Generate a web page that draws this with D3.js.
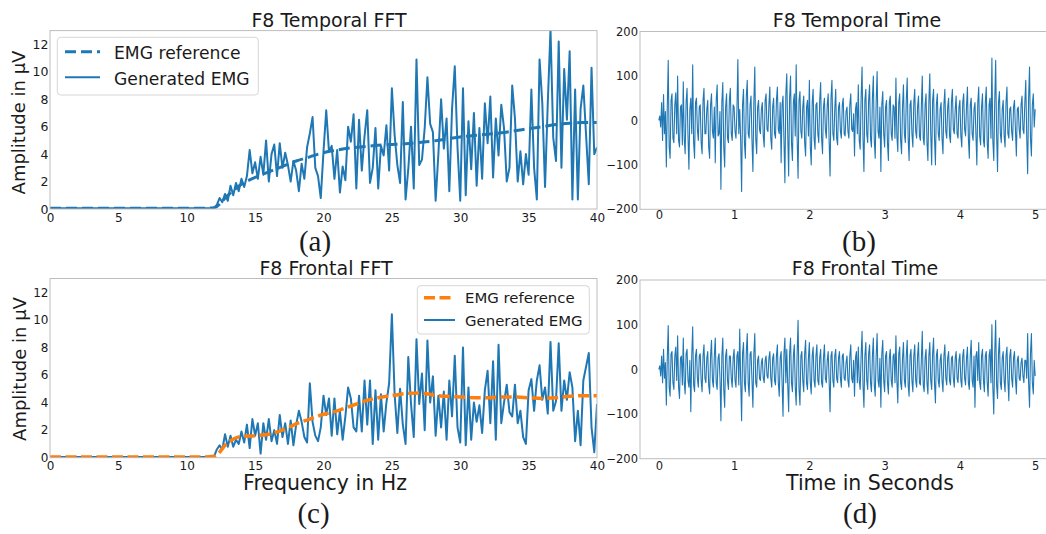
<!DOCTYPE html>
<html><head><meta charset="utf-8">
<script src="https://cdn.jsdelivr.net/npm/d3@7"></script>
<style>body{margin:0;background:#fff} svg{display:block;font-family:"DejaVu Sans",sans-serif}</style>
</head><body><svg id="c" width="1046" height="534"></svg>
<script>
// ---------- data ----------
const fftTicksX = [0,5,10,15,20,25,30,35,40];
const fftTicksY = [0,2,4,6,8,10,12];
const timeTicksX = [0,1,2,3,4,5];
const timeTicksY = [-200,-100,0,100,200];

const flatFreq = [0, 11.8];
const flatAmp = [0.05, 0.05];
const fftStart = 12, fftStep = 0.2;   // generated spectra sampled every 0.2 Hz from 12 Hz
const genTemporal = [
0.1,0.3,0.8,0.5,1.1, 0.6,1.7,1.0,1.9,1.3, 2.2,1.6,2.4,4.3,2.6, 3.4,2.2,3.8,2.5,5.0,
2.0,4.0,4.7,2.4,4.8, 3.0,4.1,3.2,2.0,3.5, 2.8,1.3,3.3,2.2,4.5, 5.5,6.7,3.0,2.4,0.8,
4.2,7.2,4.2,4.6,2.2, 4.3,1.2,3.1,2.1,6.0, 4.9,6.9,1.5,6.5,2.8, 5.3,7.2,1.9,3.0,5.9,
1.5,4.6,3.9,6.1,2.8, 8.8,5.4,3.2,1.9,7.8, 0.7,2.9,6.0,1.5,10.9, 3.2,3.6,5.9,9.6,6.2,
5.6,0.6,4.0,8.0,4.4, 6.6,1.3,7.3,10.4,4.5, 0.6,8.8,1.0,6.4,2.9, 7.0,1.7,5.9,2.2,7.7,
4.8,8.2,2.3,6.6,3.9, 7.6,5.9,2.0,3.0,9.0, 6.6,2.0,4.2,1.8,4.0, 2.5,8.7,3.0,0.7,10.9,
7.7,1.6,7.7,13.1,5.2, 3.5,12.2,3.0,10.2,6.5, 11.5,0.7,8.7,0.7,7.3, 9.0,5.4,1.8,10.3,4.0,
4.5];
const genFrontal = [
0.1,0.6,0.9,0.6,1.7, 0.8,1.6,0.8,1.3,1.0, 1.9,1.1,2.4,0.7,2.8, 1.6,2.5,0.3,2.5,1.3,
2.8,1.2,2.0,1.0,3.1, 1.5,2.5,1.0,2.7,0.9, 2.4,3.4,2.6,1.5,1.1, 5.4,2.6,1.6,1.2,2.2,
4.5,3.1,4.3,1.6,4.3, 1.7,3.4,1.3,3.0,5.1, 4.3,2.2,1.9,4.5,1.9, 5.6,2.4,5.6,1.0,4.9,
1.3,4.6,1.9,4.0,5.4, 10.4,4.6,1.8,5.0,2.4, 1.0,7.3,3.9,1.5,8.6, 3.9,6.1,2.0,8.5,4.0,
5.9,1.6,4.5,2.2,4.8, 1.3,5.6,3.0,7.4,2.2, 1.1,8.0,0.9,5.1,1.3, 4.0,2.6,3.8,1.8,4.9,
6.3,2.5,7.0,1.3,8.2, 2.5,4.0,5.3,3.3,3.0, 5.3,2.5,3.4,1.5,1.0, 4.9,5.7,3.4,5.6,6.7,
4.2,5.1,3.2,8.4,3.4, 4.1,8.3,3.4,5.6,4.2, 6.2,5.1,1.2,3.4,0.9, 5.6,6.6,7.6,2.2,0.4,
3.9];
const refFreq = [0,1,2,3,4,5,6,7,8,9,10,11,12,13,14,15,16,17,18,19,20,21,22,23,24,25,26,27,28,29,30,31,32,33,34,35,36,37,38,39,40];
const refTemporal = [0.05,0.05,0.05,0.05,0.05,0.05,0.05,0.05,0.05,0.05,0.05,0.05,0.1,1.0,1.8,2.3,2.7,3.1,3.5,3.8,4.1,4.3,4.45,4.55,4.65,4.7,4.75,4.85,4.95,5.1,5.25,5.35,5.45,5.55,5.7,5.85,6.0,6.15,6.25,6.3,6.3];
const refFrontal = [0.05,0.05,0.05,0.05,0.05,0.05,0.05,0.05,0.05,0.05,0.05,0.05,0.1,1.1,1.55,1.6,1.7,2.0,2.45,2.8,3.15,3.4,3.75,4.1,4.35,4.5,4.65,4.7,4.55,4.45,4.4,4.35,4.35,4.4,4.4,4.35,4.3,4.35,4.45,4.5,4.5];

const timeStep = 0.0125;
const timeTemporal = [
0,10,-15,40,-45,58,-30,20,-105,30, 135,-60,-85,45,60,-40,-50,35,62,-30,
100,-45,-60,30,35,-55,87,-40,-75,40, 72,-35,-110,25,50,-30,125,-50,-85,40,
50,-20,-45,30,35,-50,-75,45,72,-30, -30,25,45,-60,-85,35,60,-25,-40,30,
-95,45,80,-35,-30,20,-155,40,85,-60, -105,30,60,-40,-50,45,72,-30,-45,35,
30,-25,-40,20,137,-30,25,-45,-160,35, 70,-50,-85,55,90,-30,-40,35,55,-45,
-115,40,120,-40,-75,30,45,-20,-30,25, 40,-35,-60,45,60,-20,-25,35,75,-40,
-65,30,50,-30,-40,45,75,-20,-30,40, -95,35,55,-45,-140,60,105,-30,-125,50,
100,-50,-90,40,60,-35,125,-40,-130,45, 65,-25,-40,30,55,-50,-80,30,45,-35,
90,-60,-100,40,70,-40,-65,35,40,-30, -50,45,85,-40,-75,30,50,-20,-40,35,
60,-45,-125,50,90,-30,-45,25,70,-40, -55,30,40,-25,-40,35,50,-30,-35,20,
30,-25,-40,35,60,-20,-25,15,-80,25, 40,-30,80,-45,-65,50,120,-40,-115,45,
70,-30,-50,45,80,-40,-60,50,100,-45, -85,40,110,-25,-40,30,-115,35,65,-30,
-60,30,45,-50,-90,40,55,-30,-45,35, 30,-40,95,-35,-70,40,60,-45,-75,30,
80,-30,-50,45,95,-40,-90,35,45,-30, -60,40,70,-25,-40,30,55,-35,-45,30,
100,-40,-55,35,60,-50,-90,40,105,-30, -100,45,70,-40,-100,35,60,-30,-45,25,
40,-40,-75,35,70,-25,-40,30,50,-35, -50,40,70,-20,-30,25,55,-30,-40,30,
45,-35,-60,40,60,-20,-35,30,75,-40, -85,35,50,-30,-45,25,40,-30,-100,40,
75,-35,-55,30,60,-45,-60,40,75,-50, -85,35,50,-40,140,-45,-90,40,135,-30,
-115,40,65,-30,-50,25,45,-35,-60,40, 75,-30,-40,25,30,-25,-45,30,45,-20,
-80,25,30,-20,-40,35,55,-20,-30,40, 90,-35,-120,50,120,-40,-80,35,60,-15,
25];
const timeFrontal = [
0,8,-15,30,-30,45,-20,15,-80,25, 98,-40,-60,35,40,-30,-45,30,50,-25,
75,-40,-65,25,30,-35,70,-30,-55,35, 45,-25,-40,20,-95,30,95,-35,-50,30,
45,-20,-40,30,35,-25,-50,30,55,-20, -30,25,40,-35,-55,30,65,-25,-40,30,
70,-30,-45,25,35,-20,-115,30,70,-45, -85,30,45,-25,-45,30,30,-20,-40,25,
45,-25,-40,30,40,-35,90,-25,-115,35, 60,-30,-50,40,80,-30,-60,35,40,-25,
-85,35,80,-30,-40,20,30,-20,-25,15, 25,-20,-30,20,30,-15,-20,25,40,-20,
-40,25,35,-25,-35,30,55,-30,-60,25, 40,-30,-105,35,70,-30,45,-35,-95,35,
70,-30,-50,30,55,-40,-80,35,110,-45, -80,30,40,-25,-50,35,65,-30,-45,25,
60,-30,-55,30,50,-25,-40,30,55,-25, -35,25,45,-30,-40,25,55,-20,-30,20,
40,-25,-95,30,40,-25,-40,30,45,-20, -30,25,40,-20,-40,30,35,-20,-25,15,
30,-25,-40,30,55,-20,-30,20,-60,25, 40,-30,50,-25,-45,30,85,-35,-85,30,
60,-25,-45,35,55,-30,-50,30,70,-35, -60,30,80,-25,-40,25,-85,35,65,-25,
-50,30,40,-30,-55,25,45,-25,-40,30, 35,-30,75,-25,-75,35,50,-30,-45,25,
60,-25,-40,30,65,-35,-60,30,45,-25, -50,30,55,-25,-40,30,60,-30,-35,20,
85,-35,-50,25,45,-30,-55,30,60,-25, -45,35,70,-30,-75,30,45,-25,-40,20,
35,-25,-50,30,55,-20,-35,25,40,-25, -35,25,30,-20,-40,25,40,-20,-30,20,
35,-25,-40,30,45,-20,-35,25,50,-30, -45,30,65,-25,-40,30,-85,30,40,-25,
60,-30,-45,30,45,-25,-50,30,40,-30, -60,30,45,-30,100,-40,-100,35,110,-35,
-65,35,70,-30,-45,25,40,-25,-50,30, 50,-25,-70,30,45,-20,-40,25,40,-20,
-55,20,30,-20,-25,15,25,-15,-30,20, 20,-20,80,-30,-85,35,80,-30,-55,20,
-15];

// ---------- drawing ----------
const BLUE = "#1f77b4", ORANGE = "#ff7f0e", SPINE = "#bdbdbd", INK = "#1a1a1a";
const SANS = "DejaVu Sans, sans-serif";
const SERIF = "'Liberation Serif', 'DejaVu Serif', serif";
const svg = d3.select("#c");
svg.append("rect").attr("width",1046).attr("height",534).attr("fill","#fff");
const defs = svg.append("defs");
let clipId = 0;

function frame(p) {
  const id = "clip" + (clipId++);
  defs.append("clipPath").attr("id", id).append("rect")
    .attr("x", p.x0).attr("y", p.y0).attr("width", p.x1 - p.x0).attr("height", p.y1 - p.y0);
  return id;
}
function axes(p, x, y, tx, ty, fx, fy, padX, padY) {
  const gx = svg.append("g").attr("transform", `translate(0,${p.y1})`)
    .style("color", INK)
    .call(d3.axisBottom(x).tickValues(tx).tickSize(0).tickPadding(padX).tickFormat(d3.format("d")));
  gx.select(".domain").remove();
  gx.selectAll("text").attr("font-size", fx).attr("font-family", SANS);
  const gy = svg.append("g").attr("transform", `translate(${p.x0},0)`)
    .style("color", INK)
    .call(d3.axisLeft(y).tickValues(ty).tickSize(0).tickPadding(padY).tickFormat(d3.format("d")));
  gy.select(".domain").remove();
  gy.selectAll("text").attr("font-size", fy).attr("font-family", SANS);
  svg.append("rect").attr("x", p.x0).attr("y", p.y0).attr("width", p.x1 - p.x0).attr("height", p.y1 - p.y0)
    .attr("fill", "none").attr("stroke", SPINE).attr("stroke-width", 1);
}
function label(txt, x, y, size, opts = {}) {
  const t = svg.append("text").attr("x", x).attr("y", y).attr("font-size", size)
    .attr("text-anchor", opts.anchor || "middle").attr("fill", INK)
    .attr("font-family", opts.family || SANS).text(txt);
  if (opts.rotate) t.attr("transform", `rotate(-90,${x},${y})`);
  return t;
}

function fftPanel(p, gen, ref, refColor, refWidth, refDash, padX, fy) {
  const x = d3.scaleLinear().domain([0, 40]).range([p.x0, p.x1]);
  const y = d3.scaleLinear().domain([0, 13]).range([p.y1, p.y0]);
  const cid = frame(p);
  const genPts = flatFreq.map((f, i) => [f, flatAmp[i]])
    .concat(gen.map((v, i) => [fftStart + i * fftStep, v]));
  const refPts = refFreq.map((f, i) => [f, ref[i]]);
  const g = svg.append("g").attr("clip-path", `url(#${cid})`);
  g.append("path").datum(genPts).attr("fill", "none").attr("stroke", BLUE).attr("stroke-width", 2)
    .attr("stroke-linejoin", "round")
    .attr("d", d3.line().x(d => x(d[0])).y(d => y(d[1])));
  g.append("path").datum(refPts).attr("fill", "none").attr("stroke", refColor).attr("stroke-width", refWidth)
    .attr("stroke-dasharray", refDash)
    .attr("d", d3.line().curve(d3.curveMonotoneX).x(d => x(d[0])).y(d => y(d[1])));
  axes(p, x, y, fftTicksX, fftTicksY, 12, fy, padX, 1.5);
}
function timePanel(p, vals, padX) {
  const x = d3.scaleLinear().domain([-0.25, 5.25]).range([p.x0, p.x1]);
  const y = d3.scaleLinear().domain([-200, 200]).range([p.y1, p.y0]);
  const cid = frame(p);
  const pts = vals.map((v, i) => [i * timeStep, v]);
  svg.append("g").attr("clip-path", `url(#${cid})`).append("path").datum(pts)
    .attr("fill", "none").attr("stroke", BLUE).attr("stroke-width", 1.1).attr("stroke-linejoin", "round")
    .attr("d", d3.line().x(d => x(d[0])).y(d => y(d[1])));
  axes(p, x, y, timeTicksX, timeTicksY, 11.5, 11.5, padX, 2);
}

const pa = {x0: 50, x1: 597, y0: 30.6, y1: 209};
const pb = {x0: 640, x1: 1054, y0: 31.5, y1: 209.3};
const pc = {x0: 50, x1: 597, y0: 278.5, y1: 457.7};
const pd = {x0: 640, x1: 1054, y0: 280, y1: 458.7};

fftPanel(pa, genTemporal, refTemporal, BLUE, 3, "11,5", 4, 12.5);
timePanel(pb, timeTemporal, 1.5);
fftPanel(pc, genFrontal, refFrontal, ORANGE, 3.5, "11,4.5", 3.3, 12);
timePanel(pd, timeFrontal, 3);

// titles
label("F8 Temporal FFT", 329, 26.5, 19);
label("F8 Temporal Time", 857, 26.5, 19);
label("F8 Frontal FFT", 326, 275, 19);
label("F8 Frontal Time", 865, 275, 19);

// axis labels
label("Amplitude in \u03bcV", 25, 122.5, 18, {rotate: true});
label("Amplitude in \u03bcV", 26, 369, 18, {rotate: true});
label("Frequency in Hz", 325, 490, 20.5);
label("Time in Seconds", 870, 490, 20.5);

// sub-figure letters
label("(a)", 315, 251, 29, {family: SERIF});
label("(b)", 859, 251, 29, {family: SERIF});
label("(c)", 313.5, 522.5, 29, {family: SERIF});
label("(d)", 860, 522.5, 29, {family: SERIF});

// legends
function legend(box, items, lineX0, lineX1, textX, fs) {
  svg.append("rect").attr("x", box.x).attr("y", box.y).attr("width", box.w).attr("height", box.h)
    .attr("rx", 3.5).attr("fill", "#fff").attr("fill-opacity", 0.85).attr("stroke", "#d6d6d6");
  items.forEach(it => {
    svg.append("line").attr("x1", lineX0).attr("x2", lineX1).attr("y1", it.ly).attr("y2", it.ly)
      .attr("stroke", it.color).attr("stroke-width", it.w).attr("stroke-dasharray", it.dash || null);
    label(it.text, textX, it.ty, fs, {anchor: "start"});
  });
}
legend({x: 57.3, y: 37.3, w: 201, h: 57.7}, [
  {text: "EMG reference", color: BLUE, w: 3, dash: "11,5", ly: 51.7, ty: 59},
  {text: "Generated EMG", color: BLUE, w: 2, ly: 77.3, ty: 85}
], 65, 100, 114, 17.2);
legend({x: 417.3, y: 285.7, w: 172, h: 48.3}, [
  {text: "EMG reference", color: ORANGE, w: 3.5, dash: "11,4.5", ly: 297.7, ty: 303.3},
  {text: "Generated EMG", color: BLUE, w: 2, ly: 320, ty: 326}
], 424, 455, 465, 14.9);
</script></body></html>
